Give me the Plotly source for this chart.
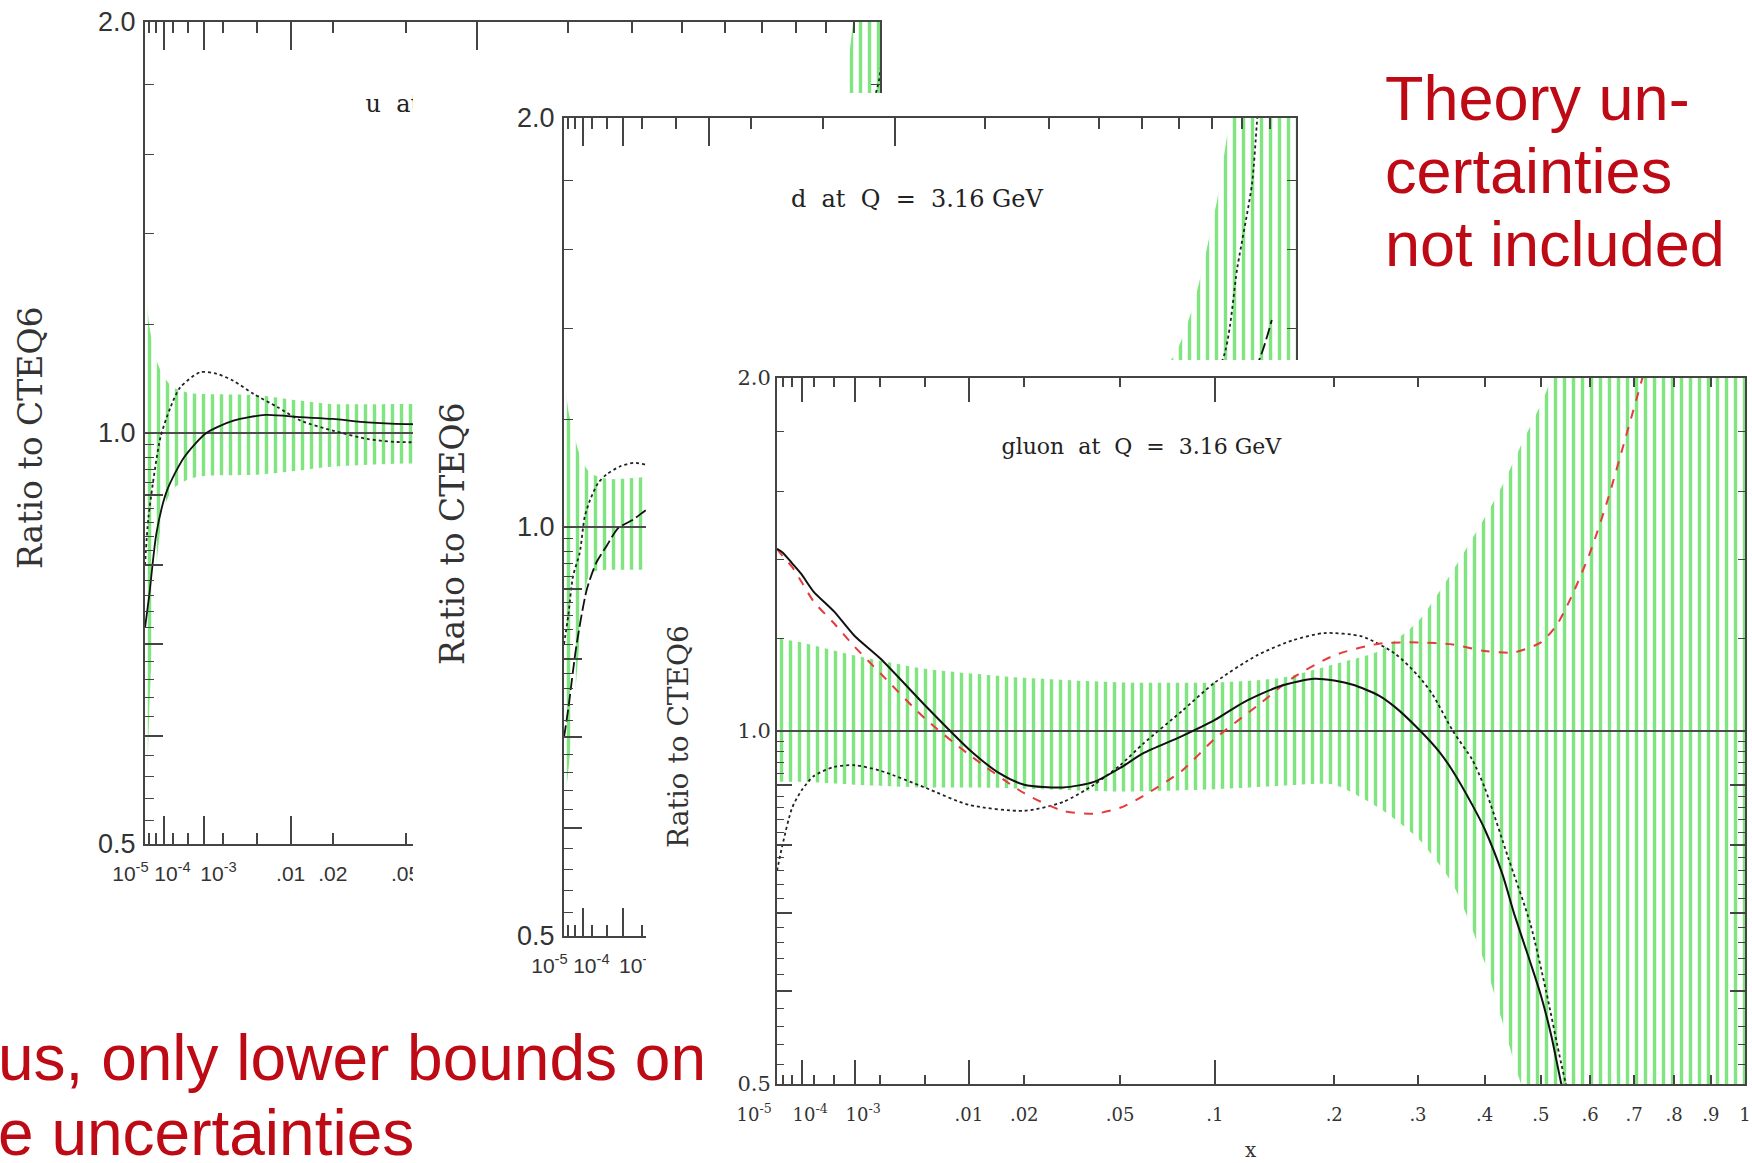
import numpy as np
import plotly.graph_objects as go

# ---------------------------------------------------------------- data
# x axis of every panel is x^(1/3) from 1e-5 to 1, y axis is log from 0.5 to 2
XMIN, XMAX = 1e-5, 1.0
YMIN, YMAX = 0.5, 2.0

XT_VALS = [1e-5, 2e-5, 5e-5, 1e-4, 2e-4, 5e-4, 1e-3, 2e-3, 5e-3, .01, .02, .05,
           .1, .2, .3, .4, .5, .6, .7, .8, .9, 1.0]
XT_TEXT = ['10<sup>-5</sup>', '', '', '10<sup>-4</sup>', '', '', '10<sup>-3</sup>', '', '',
           '.01', '.02', '.05', '.1', '.2', '.3', '.4', '.5', '.6', '.7', '.8', '.9', '1']
XT_LONG = [1e-4, 1e-3, 1e-2, 1e-1]
YT_VALS = [0.5, 0.52, 0.54, 0.56, 0.58, 0.6, 0.62, 0.64, 0.66, 0.68, 0.7, 0.72, 0.74, 0.76,
           0.78, 0.8, 0.82, 0.84, 0.86, 0.88, 0.9, 0.92, 0.94, 0.96, 0.98, 1.0,
           1.2, 1.4, 1.6, 1.8, 2.0]
YT_LABELS = {0.5: '0.5', 1.0: '1.0', 2.0: '2.0'}
YT_LONG = [0.6, 0.7, 0.8, 0.9]
REF = 1.0

# ---- u panel
U_BAND_X = [1e-5, 2e-5, 5e-5, 1e-4, 2e-4, 5e-4, 1e-3, 5e-3, 0.01, 0.02, 0.05, 0.1,
            0.3, 0.5, 0.7, 0.85, 0.91, 1.0]
U_BAND_HI = [1.31, 1.20, 1.13, 1.10, 1.08, 1.07, 1.068, 1.066, 1.058, 1.05, 1.05, 1.05,
             1.08, 1.15, 1.35, 1.7, 2.1, 2.6]
U_BAND_LO = [0.50, 0.62, 0.80, 0.88, 0.91, 0.925, 0.93, 0.932, 0.937, 0.945, 0.95, 0.95,
             0.94, 0.90, 0.80, 0.70, 0.60, 0.50]
U_SOLID_X = [1e-5, 2e-5, 5e-5, 1.3e-4, 4e-4, 1.1e-3, 2.7e-3, 6e-3, 0.012, 0.02, 0.032, 0.05, 0.08, 0.1]
U_SOLID = [0.72, 0.76, 0.845, 0.907, 0.96, 1.0, 1.021, 1.031, 1.027, 1.024, 1.018, 1.015, 1.015, 1.015]
U_DOT_X = [1e-5, 1.8e-5, 7.4e-5, 1.7e-4, 3.2e-4, 8.6e-4, 1.6e-3, 2.7e-3, 4.6e-3, 7.7e-3,
           0.012, 0.02, 0.032, 0.045, 0.07, 0.1, 0.97, 1.0]
U_DOT = [0.80, 0.868, 0.992, 1.044, 1.08, 1.108, 1.105, 1.092, 1.068, 1.045,
         1.021, 1.004, 0.99, 0.985, 0.985, 0.99, 1.75, 2.1]

# ---- d panel
D_BAND_X = [1e-5, 2e-5, 3.8e-5, 9e-5, 1.8e-4, 5e-4, 1e-3, 2e-3, 5e-3, 0.01, 0.05, 0.2,
            0.4, 0.585, 0.641, 0.671, 0.718, 0.75, 0.77, 1.0]
D_BAND_HI = [1.30, 1.22, 1.176, 1.121, 1.096, 1.085, 1.085, 1.088, 1.09, 1.09, 1.09, 1.12,
             1.2, 1.335, 1.453, 1.554, 1.75, 1.95, 2.05, 2.5]
D_BAND_LO = [0.62, 0.66, 0.72, 0.85, 0.925, 0.93, 0.93, 0.93, 0.93, 0.93, 0.93, 0.90,
             0.85, 0.80, 0.78, 0.76, 0.72, 0.70, 0.68, 0.6]
D_MAIN_X = [1e-5, 2e-5, 5.5e-5, 1.4e-4, 2.7e-4, 4.8e-4, 8.3e-4, 1.5e-3, 2.3e-3, 4e-3,
            0.01, 0.1, 0.5, 0.8, 0.869, 0.906]
D_MAIN = [0.70, 0.734, 0.817, 0.899, 0.941, 0.968, 0.998, 1.013, 1.03, 1.05,
          1.06, 1.03, 1.1, 1.25, 1.343, 1.42]
D_DOT_X = [1e-5, 2e-5, 3.8e-5, 7.7e-5, 1.2e-4, 1.8e-4, 3e-4, 4.8e-4, 8.9e-4, 1.5e-3, 2.3e-3,
           4e-3, 0.01, 0.1, 0.4, 0.6, 0.733, 0.783, 0.834, 0.851, 0.87]
D_DOT = [0.82, 0.86, 0.92, 0.957, 1.018, 1.047, 1.077, 1.093, 1.108, 1.115, 1.111,
         1.10, 1.08, 1.05, 1.1, 1.2, 1.327, 1.554, 1.79, 1.98, 2.2]

# ---- gluon panel
G_BAND_X = [1e-5, 1e-4, 1e-3, 5e-3, 0.01, 0.02, 0.05, 0.1, 0.15, 0.2, 0.25, 0.3, 0.35,
            0.4, 0.43, 0.46, 0.5, 0.53, 0.6, 0.8, 1.0]
G_BAND_HI = [1.20, 1.19, 1.16, 1.13, 1.12, 1.11, 1.10, 1.10, 1.11, 1.14, 1.17, 1.24, 1.37,
             1.52, 1.62, 1.74, 1.9, 2.05, 2.6, 3.0, 3.0]
G_BAND_LO = [0.905, 0.905, 0.90, 0.895, 0.895, 0.893, 0.888, 0.892, 0.898, 0.90, 0.86, 0.81, 0.74,
             0.635, 0.565, 0.505, 0.45, 0.42, 0.40, 0.38, 0.38]
G_SOLID_X = [1e-5, 2e-5, 5e-5, 1e-4, 2e-4, 5e-4, 1e-3, 2e-3, 5e-3, 0.01, 0.015, 0.02, 0.03,
             0.04, 0.05, 0.06, 0.08, 0.1, 0.12, 0.15, 0.18, 0.2, 0.22, 0.25, 0.27, 0.3, 0.33,
             0.35, 0.38, 0.4, 0.43, 0.45, 0.48, 0.5, 0.52, 0.54, 0.56]
G_SOLID = [1.43, 1.42, 1.39, 1.36, 1.315, 1.264, 1.205, 1.153, 1.052, 0.965, 0.92, 0.90, 0.895,
           0.905, 0.93, 0.957, 0.99, 1.022, 1.058, 1.093, 1.108, 1.104, 1.095, 1.072, 1.048, 1.005, 0.96,
           0.924, 0.865, 0.825, 0.755, 0.70, 0.635, 0.595, 0.55, 0.50, 0.46]
G_DOT_X = [1e-5, 2e-5, 5e-5, 1e-4, 2e-4, 5e-4, 1e-3, 2e-3, 5e-3, 0.01, 0.02, 0.03, 0.04, 0.05,
           0.06, 0.08, 0.1, 0.13, 0.16, 0.19, 0.23, 0.27, 0.3, 0.32, 0.35, 0.38, 0.4, 0.44,
           0.48, 0.51, 0.54, 0.57]
G_DOT = [0.76, 0.80, 0.86, 0.89, 0.915, 0.932, 0.935, 0.925, 0.895, 0.865, 0.855, 0.87, 0.90, 0.935,
         0.975, 1.04, 1.10, 1.16, 1.195, 1.212, 1.204, 1.164, 1.115, 1.075, 1.0, 0.945, 0.895, 0.78,
         0.685, 0.60, 0.52, 0.46]
G_RED_X = [1e-5, 2e-5, 5e-5, 1e-4, 2e-4, 5e-4, 1e-3, 2e-3, 5e-3, 0.01, 0.02, 0.03, 0.04, 0.05,
           0.06, 0.08, 0.1, 0.13, 0.16, 0.2, 0.25, 0.3, 0.35, 0.4, 0.45, 0.5, 0.53, 0.56, 0.6,
           0.64, 0.68, 0.72, 0.76]
G_RED = [1.43, 1.41, 1.38, 1.34, 1.29, 1.235, 1.18, 1.12, 1.025, 0.955, 0.885, 0.855, 0.85, 0.86,
         0.88, 0.925, 0.985, 1.05, 1.11, 1.16, 1.187, 1.19, 1.185, 1.17, 1.167, 1.19, 1.23, 1.30, 1.42,
         1.58, 1.78, 2.0, 2.25]

U_LABEL = 'u\u00a0\u00a0at\u00a0\u00a0Q\u00a0\u00a0=\u00a0\u00a03.16\u00a0GeV'
D_LABEL = 'd\u00a0\u00a0at\u00a0\u00a0Q\u00a0\u00a0=\u00a0\u00a03.16\u00a0GeV'
G_LABEL = 'gluon\u00a0\u00a0at\u00a0\u00a0Q\u00a0\u00a0=\u00a0\u00a03.16\u00a0GeV'
Y_TITLE = 'Ratio to CTEQ6'
X_TITLE = 'x'
NOTE_RIGHT = ['Theory un-', 'certainties', 'not included']
NOTE_LEFT = ['us, only lower bounds on', 'e uncertainties']

# ---------------------------------------------------------------- layout geometry
W, H = 1752, 1163
PANEL_U = (145, 22, 880, 844)      # left, top, right, bottom in px
PANEL_D = (564, 118, 1296, 936)
PANEL_G = (777, 378, 1745, 1084)
COVER_D = (413, 93, 1313, 990)     # white card of the d picture
COVER_G = (646, 360, 1752, 1163)   # white card of the gluon picture

AX = '#444444'
GREEN = 'rgb(128,228,128)'
RED_TXT = '#BE0A14'
NBSP = '\u00a0'

# horizontal nudges (px) of the crowded small-x labels, as in the original drawing
UD_LABEL_SHIFT = {0: -16, 3: 8, 6: 15}
G_LABEL_SHIFT = {0: -23, 3: 8, 6: 9}


def cbrt(v):
    return np.cbrt(np.asarray(v, dtype=float))


F0, F1 = float(cbrt(XMIN)), float(cbrt(XMAX))


def dom(box):
    l, t, r, b = box
    return [l / W, r / W], [1 - b / H, 1 - t / H]


def frac_pos(xf, yf):
    return F0 + xf * (F1 - F0), YMIN * (YMAX / YMIN) ** yf


def shifted_text(shifts, space_w):
    out = []
    for i, t in enumerate(XT_TEXT):
        s = shifts.get(i, 0)
        n = int(round(abs(2 * s) / space_w))
        out.append(NBSP * n + t if s > 0 else t + NBSP * n)
    return out


def xaxis_main(box, anchor, font, ticktext, ticklen, standoff):
    xd, _ = dom(box)
    return dict(domain=xd, anchor=anchor, range=[F0, F1], tickmode='array',
                tickvals=cbrt(XT_VALS), ticktext=ticktext, ticks='inside', ticklen=ticklen,
                tickwidth=1.5, tickcolor=AX, showline=True, linecolor=AX, linewidth=2,
                mirror='ticks', showgrid=False, zeroline=False, tickangle=0, automargin=False,
                tickfont=font, ticklabelstandoff=standoff, fixedrange=True)


def xaxis_long(overlay, anchor, ticklen):
    return dict(overlaying=overlay, anchor=anchor, range=[F0, F1], tickmode='array',
                tickvals=cbrt(XT_LONG), ticks='inside', ticklen=ticklen, tickwidth=1.5,
                tickcolor=AX, showline=True, linecolor=AX, linewidth=2, mirror='ticks',
                showticklabels=False, showgrid=False, zeroline=False, automargin=False,
                fixedrange=True)


def yaxis_main(box, anchor, font, ticklen, standoff):
    _, yd = dom(box)
    return dict(domain=yd, anchor=anchor, type='log', range=[np.log10(YMIN), np.log10(YMAX)],
                tickmode='array', tickvals=YT_VALS,
                ticktext=[YT_LABELS.get(v, '') for v in YT_VALS], ticks='inside',
                ticklen=ticklen, tickwidth=1.3, tickcolor=AX,
                showline=True, linecolor=AX, linewidth=2, mirror='ticks', showgrid=False,
                zeroline=False, tickfont=font, ticklabelstandoff=standoff, automargin=False,
                fixedrange=True)


def yaxis_long(overlay, anchor, ticklen):
    return dict(overlaying=overlay, anchor=anchor, type='log',
                range=[np.log10(YMIN), np.log10(YMAX)], tickmode='array', tickvals=YT_LONG,
                ticks='inside', ticklen=ticklen, tickwidth=1.5, tickcolor=AX, showline=True,
                linecolor=AX, linewidth=2, mirror='ticks', showticklabels=False,
                showgrid=False, zeroline=False, automargin=False, fixedrange=True)


def cover_axis(box, axis):
    xd, yd = dom(box)
    return dict(domain=xd if axis == 'x' else yd, range=[0, 1], visible=False,
                automargin=False, fixedrange=True)


traces = []


def band(xs, lo, hi, xa, ya):
    fx = cbrt(xs)
    traces.append(go.Scatter(x=fx, y=lo, mode='lines', line=dict(width=0, shape='spline', smoothing=0.6),
                             hoverinfo='skip', xaxis=xa, yaxis=ya))
    traces.append(go.Scatter(x=fx, y=hi, mode='lines', line=dict(width=0, shape='spline', smoothing=0.6),
                             fill='tonexty', fillcolor='rgba(0,0,0,0)',
                             fillpattern=dict(shape='|', size=9, solidity=0.38, fgcolor=GREEN,
                                              bgcolor='rgba(0,0,0,0)', fgopacity=1),
                             hoverinfo='skip', xaxis=xa, yaxis=ya))


def ref_line(xa, ya):
    traces.append(go.Scatter(x=[F0, F1], y=[REF, REF], mode='lines',
                             line=dict(color='#4d4d4d', width=2), hoverinfo='skip', xaxis=xa, yaxis=ya))


def curve(xs, ys, xa, ya, color, width, dash):
    traces.append(go.Scatter(x=cbrt(xs), y=ys, mode='lines',
                             line=dict(color=color, width=width, dash=dash, shape='spline', smoothing=0.7),
                             hoverinfo='skip', xaxis=xa, yaxis=ya))


def label(text, xf, yf, size, xa, ya):
    fx, fy = frac_pos(xf, yf)
    traces.append(go.Scatter(x=[fx], y=[fy], mode='text', text=[text], textposition='middle right',
                             textfont=dict(family='DejaVu Serif', size=size, color='#222'),
                             hoverinfo='skip', xaxis=xa, yaxis=ya))


def cover(xa, ya):
    traces.append(go.Scatter(x=[0, 1, 1, 0, 0], y=[0, 0, 1, 1, 0], mode='lines', fill='toself',
                             fillcolor='white', line=dict(width=0), hoverinfo='skip',
                             xaxis=xa, yaxis=ya))


def tick_holder(xa, ya):
    traces.append(go.Scatter(x=[F0], y=[REF], mode='markers', marker=dict(opacity=0),
                             hoverinfo='skip', xaxis=xa, yaxis=ya))


# ---- u panel (x, y)
band(U_BAND_X, U_BAND_LO, U_BAND_HI, 'x', 'y')
ref_line('x', 'y')
curve(U_DOT_X, U_DOT, 'x', 'y', '#222', 1.8, 'dot')
curve(U_SOLID_X, U_SOLID, 'x', 'y', '#111', 1.8, 'solid')
label(U_LABEL, 0.30, 0.898, 24, 'x', 'y')
tick_holder('x6', 'y')
tick_holder('x', 'y9')

# ---- white card of the d picture (x2, y2)
cover('x2', 'y2')

# ---- d panel (x3, y3)
band(D_BAND_X, D_BAND_LO, D_BAND_HI, 'x3', 'y3')
ref_line('x3', 'y3')
curve(D_DOT_X, D_DOT, 'x3', 'y3', '#222', 1.8, 'dot')
curve(D_MAIN_X, D_MAIN, 'x3', 'y3', '#111', 1.8, '12px,4px')
label(D_LABEL, 0.31, 0.898, 24, 'x3', 'y3')
tick_holder('x7', 'y3')
tick_holder('x3', 'y10')

# ---- white card of the gluon picture (x4, y4)
cover('x4', 'y4')

# ---- gluon panel (x5, y5)
band(G_BAND_X, G_BAND_LO, G_BAND_HI, 'x5', 'y5')
ref_line('x5', 'y5')
curve(G_DOT_X, G_DOT, 'x5', 'y5', '#222', 1.8, 'dot')
curve(G_RED_X, G_RED, 'x5', 'y5', 'rgb(228,60,60)', 2, 'dash')
curve(G_SOLID_X, G_SOLID, 'x5', 'y5', '#111', 2, 'solid')
label(G_LABEL, 0.232, 0.90, 22, 'x5', 'y5')
tick_holder('x8', 'y5')
tick_holder('x5', 'y11')

fig = go.Figure(traces)
fig.update_traces(showlegend=False)

UD_YFONT = dict(family='Liberation Sans', size=27, color='#333')
UD_XFONT = dict(family='Liberation Sans', size=21, color='#333')
G_YFONT = dict(family='DejaVu Serif', size=21, color='#333')
G_XFONT = dict(family='DejaVu Serif', size=18, color='#333')
UD_XTEXT = shifted_text(UD_LABEL_SHIFT, 0.278 * UD_XFONT['size'])
G_XTEXT = shifted_text(G_LABEL_SHIFT, 0.318 * G_XFONT['size'])

ann = []
title_font_ud = dict(family='DejaVu Serif', size=33, color='#333')
title_font_g = dict(family='DejaVu Serif', size=28, color='#333')
ann.append(dict(text=Y_TITLE, x=31 / W, y=1 - 438 / H, textangle=-90, font=title_font_ud))
ann.append(dict(text=Y_TITLE, x=452 / W, y=1 - 534 / H, textangle=-90, font=title_font_ud))
ann.append(dict(text=Y_TITLE, x=678 / W, y=1 - 737 / H, textangle=-90, font=title_font_g))
ann.append(dict(text=X_TITLE, x=1251 / W, y=1 - 1150 / H, font=dict(family='DejaVu Serif', size=20, color='#333')))
for i, t in enumerate(NOTE_RIGHT):
    ann.append(dict(text=t, x=1383 / W, y=1 - (98 + 73 * i) / H, xanchor='left',
                    font=dict(family='Liberation Sans', size=63, color=RED_TXT)))
for i, t in enumerate(NOTE_LEFT):
    ann.append(dict(text=t, x=-4 / W, y=1 - (1058 + 75 * i) / H, xanchor='left',
                    font=dict(family='Liberation Sans', size=64, color=RED_TXT)))
for a in ann:
    a.update(xref='paper', yref='paper', showarrow=False)
    a.setdefault('xanchor', 'center')
    a.setdefault('yanchor', 'middle')

fig.update_layout(
    width=W, height=H, margin=dict(l=0, r=0, t=0, b=0, autoexpand=False),
    paper_bgcolor='white', plot_bgcolor='white', hovermode=False, showlegend=False,
    xaxis=xaxis_main(PANEL_U, 'y', UD_XFONT, UD_XTEXT, 11, 10),
    yaxis=yaxis_main(PANEL_U, 'x', UD_YFONT, 9, 2),
    xaxis2=cover_axis(COVER_D, 'x'), yaxis2=cover_axis(COVER_D, 'y'),
    xaxis3=xaxis_main(PANEL_D, 'y3', UD_XFONT, UD_XTEXT, 11, 10),
    yaxis3=yaxis_main(PANEL_D, 'x3', UD_YFONT, 9, 2),
    xaxis4=cover_axis(COVER_G, 'x'), yaxis4=cover_axis(COVER_G, 'y'),
    xaxis5=xaxis_main(PANEL_G, 'y5', G_XFONT, G_XTEXT, 9, 13),
    yaxis5=yaxis_main(PANEL_G, 'x5', G_YFONT, 7, 0),
    xaxis6=xaxis_long('x', 'y', 28),
    xaxis7=xaxis_long('x3', 'y3', 28),
    xaxis8=xaxis_long('x5', 'y5', 24),
    yaxis9=yaxis_long('y', 'x', 18),
    yaxis10=yaxis_long('y3', 'x3', 18),
    yaxis11=yaxis_long('y5', 'x5', 15),
    annotations=ann,
)

fig.write_html('out.html')
